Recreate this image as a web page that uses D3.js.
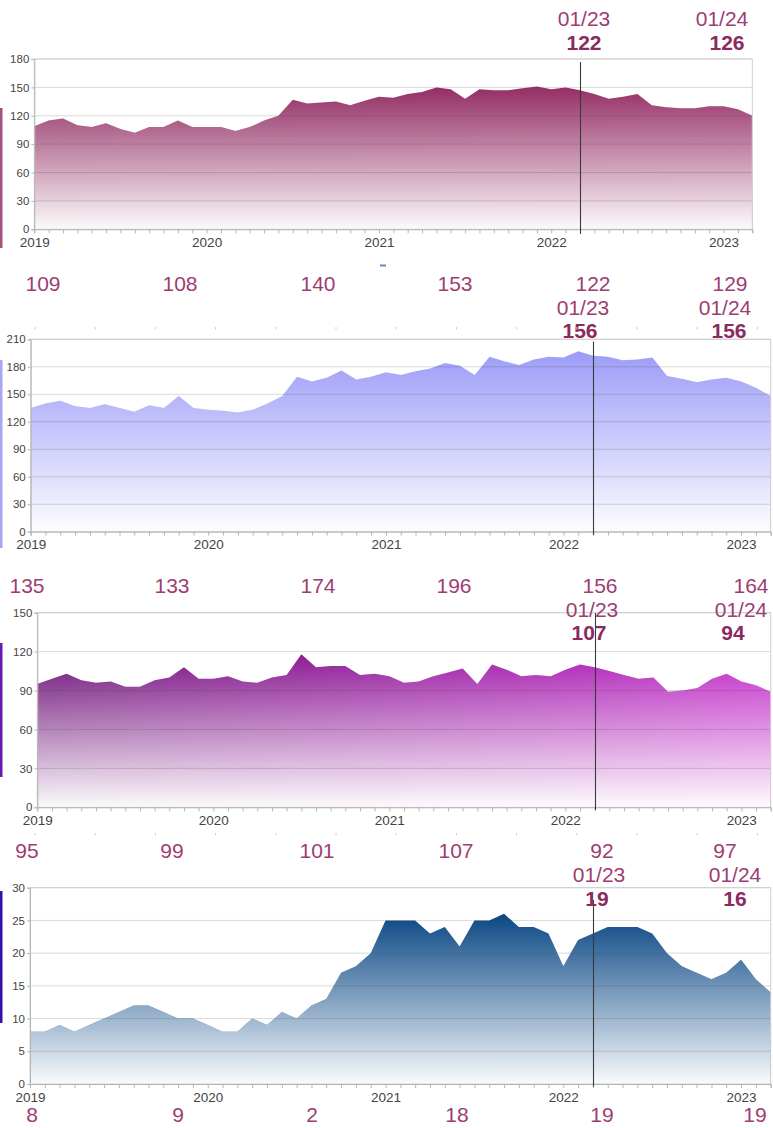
<!DOCTYPE html>
<html>
<head>
<meta charset="utf-8">
<script src="https://cdn.jsdelivr.net/npm/d3@7"></script>
<style>
  body { margin: 0; background: #fff; }
  svg { display: block; }
</style>
</head>
<body>
<svg id="chart" width="773" height="1128"></svg>
<script>

//******************************************************************************
//**  Data
//******************************************************************************
var months = d3.timeMonth.range(new Date(2019, 0, 1), new Date(2023, 3, 1)); // Jan 2019 .. Mar 2023

var series1 = [109,115,117,110,108,112,106,102,108,108,115,108,108,108,104,108,115,120,137,133,134,135,131,136,140,
               139,143,145,150,148,138,148,147,147,149,151,148,150,147,143,138,140,143,131,129,128,128,130,130,127,120];
var series2 = [135,140,143,137,135,139,135,131,138,135,148,135,133,132,130,133,140,148,169,164,168,176,166,169,174,
               171,175,178,184,181,171,191,186,182,188,191,190,197,192,191,187,188,190,170,167,163,166,168,164,157,148];
var series3 = [95,99,103,98,96,97,93,93,98,100,108,99,99,101,97,96,100,102,118,108,109,109,102,103,101,
               96,97,101,104,107,95,110,106,101,102,101,106,110,108,105,102,99,100,89,90,92,99,103,97,94,89];
var series4 = [8,8,9,8,9,10,11,12,12,11,10,10,9,8,8,10,9,11,10,12,13,17,18,20,25,
               25,25,23,24,21,25,25,26,24,24,23,18,22,23,24,24,24,23,20,18,17,16,17,19,16,14];

var markerIndex = 38;               // Mar 2022, vertical rule
var markerNames = ["01/23", "01/24"];
var markerValues1 = [122, 126];
var markerValues2 = [156, 156];
var markerValues3 = [107, 94];
var markerValues4 = [19, 16];

var rowValues1 = [109, 108, 140, 153, 122, 129];
var rowValues2 = [135, 133, 174, 196, 156, 164];
var rowValues3 = [95, 99, 101, 107, 92, 97];
var rowValues4 = [8, 9, 2, 18, 19, 19];


//******************************************************************************
//**  Layout
//******************************************************************************
var panels = [
    {values: series1, yMax: 180, yStep: 30, left: 34.3, right: 752.3, top: 59, bottom: 229.3,
     colors: ["#8f2a60", "#962f66"], bar: [108, 248, "#a3517e"], rule: [62, 234],
     notes: markerValues1, noteX: [[584, 584], [722, 727]], noteY: [26, 50],
     row: rowValues1, rowX: [43, 180, 318, 455, 593, 730], rowY: 291},
    {values: series2, yMax: 210, yStep: 30, left: 30.7, right: 770.7, top: 339.3, bottom: 531.7,
     colors: ["#9c9cf8", "#9c9cf8"], bar: [360, 548, "#a6a6f4"], rule: [341.7, 535],
     notes: markerValues2, noteX: [[583, 580], [725, 729]], noteY: [315, 338],
     row: rowValues2, rowX: [27, 172, 318, 454, 600, 751], rowY: 593},
    {values: series3, yMax: 150, yStep: 30, left: 37.3, right: 770.7, top: 612.7, bottom: 807.3,
     colors: ["#6e1478", "#c42ccb"], bar: [643, 777, "#6a1ab4"], rule: [613, 810],
     notes: markerValues3, noteX: [[592, 589], [741, 733]], noteY: [617, 640],
     row: rowValues3, rowX: [27, 172, 317, 456, 602, 725], rowY: 858},
    {values: series4, yMax: 30, yStep: 5, left: 30, right: 770.7, top: 887.7, bottom: 1084,
     colors: ["#0a4784", "#0a4784"], bar: [891, 1023, "#3311a6"], rule: [900, 1086.7],
     notes: markerValues4, noteX: [[599, 597], [735, 735]], noteY: [882, 906],
     row: rowValues4, rowX: [32, 178, 312, 457, 602, 755], rowY: 1122}
];

var labelColor = "#9e3d73";
var labelBold = "#8b2a5f";
var font = "'Liberation Sans', Arial, sans-serif";

var svg = d3.select("#chart");
var defs = svg.append("defs");


//**************************************************************************
//** drawPanel
//**************************************************************************
var drawPanel = function(p, i){

    var g = svg.append("g").attr("class", "panel" + i);

    var x = d3.scaleLinear().domain([0, months.length - 1]).range([p.left, p.right]);
    var y = d3.scaleLinear().domain([0, p.yMax]).range([p.bottom, p.top]);

    // base colour (horizontal) and white fade (vertical, from the highest point down)
    var base = defs.append("linearGradient").attr("id", "base" + i)
        .attr("gradientUnits", "userSpaceOnUse")
        .attr("x1", p.left).attr("x2", p.right).attr("y1", 0).attr("y2", 0);
    base.append("stop").attr("offset", 0).attr("stop-color", p.colors[0]);
    base.append("stop").attr("offset", 1).attr("stop-color", p.colors[1]);

    var fade = defs.append("linearGradient").attr("id", "fade" + i)
        .attr("gradientUnits", "userSpaceOnUse")
        .attr("x1", 0).attr("x2", 0).attr("y1", y(d3.max(p.values))).attr("y2", p.bottom);
    fade.append("stop").attr("offset", 0).attr("stop-color", "#fff").attr("stop-opacity", 0);
    fade.append("stop").attr("offset", 1).attr("stop-color", "#fff").attr("stop-opacity", 0.98);

    var area = d3.area()
        .x(function(d, j){ return x(j); })
        .y0(y(0))
        .y1(function(d){ return y(d); });

    g.append("path").datum(p.values).attr("d", area).attr("fill", "url(#base" + i + ")");
    g.append("path").datum(p.values).attr("d", area).attr("fill", "url(#fade" + i + ")");

    // grid lines over the fill
    var yTicks = d3.range(0, p.yMax + 1, p.yStep);
    g.selectAll(".grid").data(yTicks.slice(1)).enter().append("line")
        .attr("x1", p.left).attr("x2", p.right)
        .attr("y1", function(d){ return y(d); })
        .attr("y2", function(d){ return y(d); })
        .attr("stroke", "rgba(70,70,70,0.2)")
        .attr("stroke-width", 1);

    // frame
    g.append("rect")
        .attr("x", p.left).attr("y", p.top)
        .attr("width", p.right - p.left).attr("height", p.bottom - p.top)
        .attr("fill", "none").attr("stroke", "#cfcfcf");

    // y axis
    var yAxis = g.append("g")
        .attr("transform", "translate(" + p.left + ",0)")
        .call(d3.axisLeft(y).tickValues(yTicks).tickSize(3).tickPadding(2));
    yAxis.selectAll("path, line").attr("stroke", "#b5b5b5");
    yAxis.selectAll("text").attr("font-family", font).attr("font-size", 11.5).attr("fill", "#444");

    // x axis
    var xAxis = g.append("g")
        .attr("transform", "translate(0," + p.bottom + ")")
        .call(d3.axisBottom(x)
            .tickValues(d3.range(months.length))
            .tickSize(4).tickPadding(4)
            .tickFormat(function(j){ return months[j].getMonth() === 0 ? months[j].getFullYear() : ""; }));
    xAxis.selectAll("path, line").attr("stroke", "#b5b5b5");
    xAxis.selectAll("text").attr("font-family", font).attr("font-size", 13.5).attr("fill", "#444");

    // left colour bar
    g.append("rect")
        .attr("x", 0).attr("y", p.bar[0])
        .attr("width", 2.5).attr("height", p.bar[1] - p.bar[0])
        .attr("fill", p.bar[2]);

    // marker rule
    var mx = Math.round(x(markerIndex)) + 0.5;
    g.append("line")
        .attr("x1", mx).attr("x2", mx)
        .attr("y1", p.rule[0]).attr("y2", p.rule[1])
        .attr("stroke", "#3a3a3a").attr("stroke-width", 1.1);

    // marker notes
    markerNames.forEach(function(name, k){
        g.append("text")
            .attr("x", p.noteX[k][0]).attr("y", p.noteY[0])
            .attr("text-anchor", "middle")
            .attr("font-family", font).attr("font-size", 21)
            .attr("fill", labelColor)
            .text(name);
        g.append("text")
            .attr("x", p.noteX[k][1]).attr("y", p.noteY[1])
            .attr("text-anchor", "middle")
            .attr("font-family", font).attr("font-size", 21).attr("font-weight", "bold")
            .attr("fill", labelBold)
            .text(p.notes[k]);
    });

    // value row under the chart
    g.selectAll(".rowval").data(p.row).enter().append("text")
        .attr("x", function(d, k){ return p.rowX[k]; })
        .attr("y", p.rowY)
        .attr("text-anchor", "middle")
        .attr("font-family", font).attr("font-size", 21)
        .attr("fill", labelColor)
        .text(function(d){ return d; });
};

panels.forEach(drawPanel);


// faint stray tick rows and marks left over from the source page
[327, 833].forEach(function(ty){
    svg.append("g").selectAll("line").data(d3.range(35, 760, 60.2)).enter().append("line")
        .attr("x1", function(d){ return d; }).attr("x2", function(d){ return d; })
        .attr("y1", ty).attr("y2", ty + 2.5)
        .attr("stroke", "#cccccc");
});
svg.append("rect").attr("x", 380).attr("y", 264.5).attr("width", 6).attr("height", 2).attr("fill", "#5f8ec6");

</script>
</body>
</html>
